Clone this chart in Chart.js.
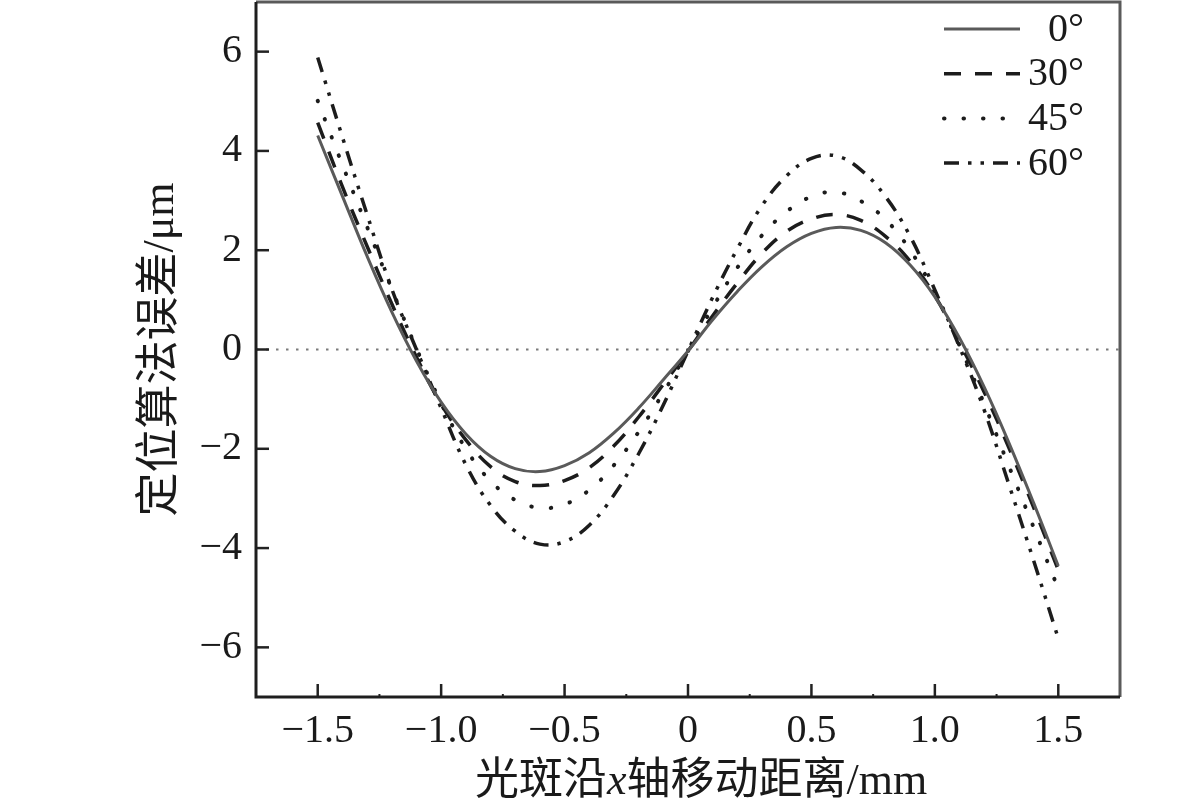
<!DOCTYPE html>
<html><head><meta charset="utf-8">
<script src="https://cdn.jsdelivr.net/npm/chart.js@4.4.1/dist/chart.umd.min.js"></script>
<style>html,body{margin:0;padding:0;background:#fff;}#wrap{width:1181px;height:808px;position:relative;}</style>
</head><body><div id="wrap"><canvas id="c" width="1181" height="808"></canvas></div>
<script>
// ---- data ----
const xValues = [-1.5,-1.4,-1.3,-1.2,-1.1,-1.0,-0.9,-0.8,-0.7,-0.6,-0.5,-0.4,-0.3,-0.2,-0.1,0,0.1,0.2,0.3,0.4,0.5,0.6,0.7,0.8,0.9,1.0,1.1,1.2,1.3,1.4,1.5];
const seriesLabels = ['0°','30°','45°','60°'];
const deg0  = [4.31,3.09,1.88,0.76,-0.23,-1.06,-1.70,-2.15,-2.40,-2.46,-2.34,-2.08,-1.68,-1.18,-0.61,-0.03,0.60,1.17,1.67,2.07,2.34,2.46,2.40,2.15,1.70,1.06,0.23,-0.76,-1.88,-3.09,-4.36];
const deg30 = [4.57,3.28,2.08,0.92,-0.15,-1.10,-1.82,-2.36,-2.66,-2.74,-2.64,-2.38,-1.94,-1.36,-0.70,-0.03,0.68,1.34,1.94,2.38,2.63,2.72,2.60,2.28,1.78,1.08,0.14,-0.86,-1.98,-3.18,-4.44];
const deg45 = [5.01,3.72,2.47,1.22,0.02,-1.08,-2.00,-2.65,-3.03,-3.19,-3.12,-2.83,-2.33,-1.66,-0.87,-0.03,0.85,1.65,2.30,2.78,3.08,3.17,2.99,2.62,2.00,1.14,0.08,-1.10,-2.35,-3.58,-4.82];
const deg60 = [5.88,4.28,2.72,1.22,0.00,-1.18,-2.32,-3.14,-3.66,-3.92,-3.87,-3.54,-2.93,-2.10,-1.12,-0.03,1.05,2.03,2.90,3.50,3.85,3.90,3.62,3.08,2.28,1.20,0.05,-1.22,-2.72,-4.25,-5.82];
const refLineX = [-1.75, 1.75];
const refLineY = [0, 0];
const xTickValues = [-1.5,-1.0,-0.5,0,0.5,1.0,1.5];
const xMinorTickValues = [-1.25,-0.75,-0.25,0.25,0.75,1.25];
const yTickValues = [-6,-4,-2,0,2,4,6];
const xTitleParts = ['光斑沿','x','轴移动距离/mm'];
const yTitle = '定位算法误差/μm';

// ---- chart ----
const SERIF = "'Liberation Serif', 'Noto Sans CJK SC', serif";
const toPts = (xs, ys) => xs.map((x, i) => ({x, y: ys[i]}));
const fmtX = v => v === 0 ? '0' : (v < 0 ? '\u2212' : '') + Math.abs(v).toFixed(1);
const fmtY = v => v === 0 ? '0' : (v < 0 ? '\u2212' : '') + Math.abs(v);

const styles = [
  {borderColor:'#5a5a5a', borderWidth:3, borderDash:[], borderCapStyle:'butt'},
  {borderColor:'#1c1c1c', borderWidth:3.5, borderDash:[17,14], borderCapStyle:'butt'},
  {borderColor:'#1c1c1c', borderWidth:4, borderDash:[0.5,19], borderCapStyle:'round'},
  {borderColor:'#1c1c1c', borderWidth:3.5, borderDash:[15,9,3.5,9,3.5,9], borderCapStyle:'butt'}
];
const seriesData = [deg0, deg30, deg45, deg60];
const datasets = seriesData.map((ys, i) => Object.assign({
  label: seriesLabels[i], data: toPts(xValues, ys), pointRadius: 0, tension: 0.4, fill: false
}, styles[i]));
datasets.push({label:'', isRef:true, data: toPts(refLineX, refLineY), pointRadius:0, borderColor:'#7a7a7a', borderWidth:2, borderDash:[2.5,7.5], tension:0});

const framePlugin = {
  id:'frame',
  afterDatasetsDraw(chart){
    const {ctx, chartArea:a, scales:{x, y}} = chart;
    ctx.save();
    ctx.setLineDash([]);
    ctx.strokeStyle = '#222'; ctx.lineWidth = 2.5;
    xTickValues.forEach(v => { const p = x.getPixelForValue(v); ctx.beginPath(); ctx.moveTo(p, a.bottom); ctx.lineTo(p, a.bottom - 13); ctx.stroke(); });
    yTickValues.forEach(v => { const p = y.getPixelForValue(v); ctx.beginPath(); ctx.moveTo(a.left, p); ctx.lineTo(a.left + 13, p); ctx.stroke(); });
    ctx.lineWidth = 2;
    xMinorTickValues.forEach(v => { const p = x.getPixelForValue(v); ctx.beginPath(); ctx.moveTo(p, a.bottom); ctx.lineTo(p, a.bottom - 3); ctx.stroke(); });
    ctx.strokeStyle = '#5a5a5a'; ctx.lineWidth = 3;
    ctx.beginPath(); ctx.moveTo(a.left, a.top); ctx.lineTo(a.right, a.top); ctx.lineTo(a.right, a.bottom); ctx.stroke();
    ctx.strokeStyle = '#1e1e1e'; ctx.lineWidth = 3;
    ctx.beginPath(); ctx.moveTo(a.left, a.top); ctx.lineTo(a.left, a.bottom); ctx.lineTo(a.right, a.bottom); ctx.stroke();
    ctx.restore();
  },
  afterDraw(chart){
    const {ctx} = chart;
    ctx.save();
    // legend
    chart.data.datasets.forEach((ds, i) => {
      if (ds.isRef) return;
      const yy = 29 + i * 44.7;
      ctx.setLineDash(ds.borderDash || []);
      ctx.lineCap = ds.borderCapStyle || 'butt';
      ctx.strokeStyle = ds.borderColor; ctx.lineWidth = ds.borderWidth;
      ctx.beginPath(); ctx.moveTo(944, yy); ctx.lineTo(1020, yy); ctx.stroke();
      ctx.setLineDash([]);
      ctx.fillStyle = '#1a1a1a';
      ctx.font = "40px " + SERIF;
      ctx.textAlign = 'right'; ctx.textBaseline = 'middle';
      ctx.fillText(ds.label, 1084, yy + 1);
    });
    // x-axis title with italic x
    const fonts = ["44px " + SERIF, "italic 44px " + SERIF, "44px " + SERIF];
    let widths = xTitleParts.map((t, i) => { ctx.font = fonts[i]; return ctx.measureText(t).width; });
    const total = widths.reduce((s, w) => s + w, 0);
    let cx = 701 - total / 2;
    ctx.textAlign = 'left'; ctx.textBaseline = 'alphabetic'; ctx.fillStyle = '#1a1a1a';
    xTitleParts.forEach((t, i) => { ctx.font = fonts[i]; ctx.fillText(t, cx, 794); cx += widths[i]; });
    ctx.restore();
  }
};

new Chart(document.getElementById('c'), {
  type: 'line',
  data: { datasets },
  options: {
    responsive: false, animation: false, devicePixelRatio: 1,
    layout: { padding: { top: 2, right: 61, left: 0, bottom: 0 } },
    plugins: { legend: { display: false }, tooltip: { enabled: false } },
    scales: {
      x: {
        type: 'linear', min: -1.75, max: 1.75,
        afterBuildTicks: s => { s.ticks = xTickValues.map(v => ({value: v})); },
        afterFit: s => { s.height = 111; s.paddingLeft = 0; s.paddingRight = 0; },
        grid: { display: false, drawTicks: false }, border: { display: false },
        ticks: { callback: v => fmtX(v), color: '#1a1a1a', font: { family: SERIF, size: 40 }, padding: 10, maxRotation: 0, autoSkip: false }
      },
      y: {
        type: 'linear', min: -7, max: 7,
        afterBuildTicks: s => { s.ticks = yTickValues.map(v => ({value: v})); },
        afterFit: s => { s.width = 256; s.paddingTop = 0; s.paddingBottom = 0; },
        grid: { display: false, drawTicks: false }, border: { display: false },
        ticks: { callback: v => fmtY(v), color: '#1a1a1a', font: { family: SERIF, size: 40 }, padding: 14, autoSkip: false },
        title: { display: true, text: yTitle, color: '#1a1a1a', font: { family: SERIF, size: 44 }, padding: { top: 135, bottom: 0 } }
      }
    }
  },
  plugins: [framePlugin]
});
</script></body></html>
